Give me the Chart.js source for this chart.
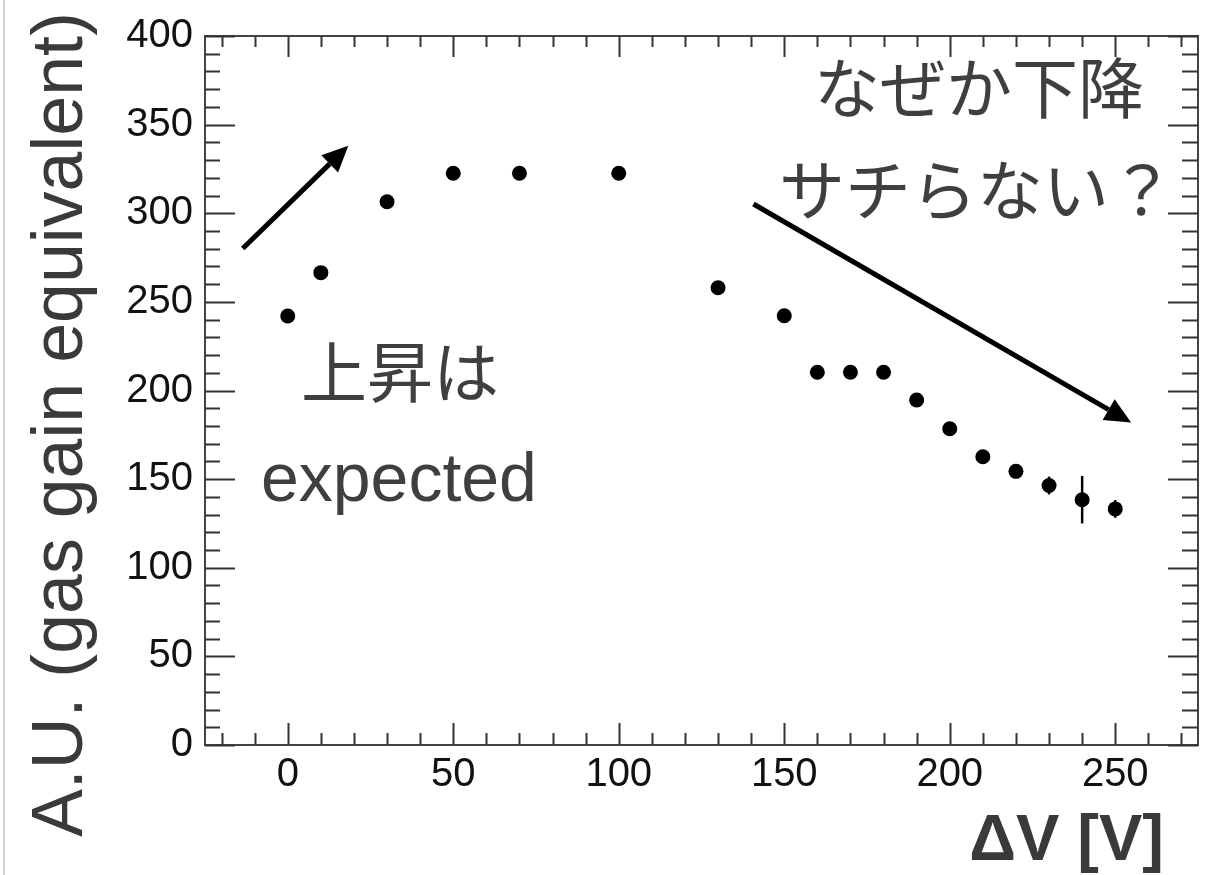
<!DOCTYPE html>
<html><head><meta charset="utf-8">
<script src="https://cdn.jsdelivr.net/npm/chart.js@4"></script>
<style>html,body{margin:0;padding:0;background:#fff;}canvas{display:block}</style>
</head><body>
<canvas id="c" width="1217" height="875"></canvas>
<script>
// ---- data ----
const deltaV  = [0, 10, 30, 50, 70, 100, 130, 150, 160, 170, 180, 190, 200, 210, 220, 230, 240, 250];
const gain    = [242, 266.5, 306.5, 322.6, 322.6, 322.6, 258, 242.2, 210.3, 210.3, 210.3, 194.6, 178.4, 162.6, 154.4, 146.4, 138.4, 133.2];
const gainErr = [2, 2, 2, 2, 2, 2, 3, 3, 3, 3, 3, 3, 3, 3, 3, 5, 13.4, 5];
const xTickValues = [0, 50, 100, 150, 200, 250];
const yTickValues = [0, 50, 100, 150, 200, 250, 300, 350, 400];
const xAxisTitle = 'ΔV [V]';
const yAxisTitle = 'A.U. (gas gain equivalent)';
const noteTexts = ['なぜか下降', 'サチらない？', '上昇は', 'expected'];

// ---- layout (annotation anchors in data coordinates) ----
const noteLayout = [
  {x: 159.0, y: 370.5, size: 66, baseline: 'middle', family: "'Noto Sans CJK JP', sans-serif"},
  {x: 148.4, y: 313.3, size: 66, baseline: 'middle', family: "'Noto Sans CJK JP', sans-serif"},
  {x: 4.0,   y: 210.4, size: 66, baseline: 'middle', family: "'Noto Sans CJK JP', sans-serif"},
  {x: -8.1,  y: 137.4, size: 68, baseline: 'alphabetic', family: "'Liberation Sans', Arial, sans-serif"}
];
const arrows = [
  {from: [-13.6, 280.1], to: [18.3, 338.1]},
  {from: [140.7, 305.2], to: [254.8, 181.9]}
];

const FONT = "'Liberation Sans', Arial, Helvetica, sans-serif";

const decor = {
  id: 'decor',
  beforeDatasetsDraw(chart) {
    const {ctx, scales: {x, y}} = chart;
    ctx.save();
    ctx.strokeStyle = '#000';
    ctx.lineWidth = 2.5;
    deltaV.forEach((v, i) => {
      const px = x.getPixelForValue(v);
      ctx.beginPath();
      ctx.moveTo(px, y.getPixelForValue(gain[i] - gainErr[i]));
      ctx.lineTo(px, y.getPixelForValue(gain[i] + gainErr[i]));
      ctx.stroke();
    });
    ctx.restore();
  },
  afterDraw(chart) {
    const {ctx, chartArea: a, scales: {x, y}} = chart;
    ctx.save();
    // page border
    ctx.strokeStyle = '#cfcfcf';
    ctx.lineWidth = 2;
    ctx.beginPath(); ctx.moveTo(4, 0); ctx.lineTo(4, chart.height); ctx.stroke();
    // frame
    ctx.strokeStyle = '#444';
    ctx.lineWidth = 2;
    ctx.strokeRect(a.left, a.top, a.right - a.left, a.bottom - a.top);
    // inward ticks
    ctx.strokeStyle = '#333';
    ctx.lineWidth = 2;
    for (let v = Math.ceil(x.min / 10) * 10; v <= x.max; v += 10) {
      const px = Math.round(x.getPixelForValue(v)) + 0.5;
      const major = v % 50 === 0;
      ctx.beginPath();
      ctx.moveTo(px, a.bottom); ctx.lineTo(px, a.bottom - (major ? 22 : 12));
      ctx.moveTo(px, a.top); ctx.lineTo(px, a.top + (major ? 21 : 11));
      ctx.stroke();
    }
    for (let v = Math.ceil(y.min / 10) * 10; v <= y.max; v += 10) {
      const py = Math.round(y.getPixelForValue(v)) + 0.5;
      const major = v % 50 === 0;
      ctx.beginPath();
      ctx.moveTo(a.left, py); ctx.lineTo(a.left + (major ? 30 : 15), py);
      ctx.moveTo(a.right, py); ctx.lineTo(a.right - (major ? 30 : 16), py);
      ctx.stroke();
    }
    // arrows
    ctx.strokeStyle = '#000'; ctx.fillStyle = '#000'; ctx.lineWidth = 5;
    arrows.forEach(ar => {
      const x0 = x.getPixelForValue(ar.from[0]), y0 = y.getPixelForValue(ar.from[1]);
      const x1 = x.getPixelForValue(ar.to[0]), y1 = y.getPixelForValue(ar.to[1]);
      const ang = Math.atan2(y1 - y0, x1 - x0);
      const hl = 26, hw = 12;
      const bx = x1 - hl * Math.cos(ang), by = y1 - hl * Math.sin(ang);
      ctx.beginPath(); ctx.moveTo(x0, y0); ctx.lineTo(bx, by); ctx.stroke();
      ctx.beginPath();
      ctx.moveTo(x1, y1);
      ctx.lineTo(bx + hw * Math.sin(ang), by - hw * Math.cos(ang));
      ctx.lineTo(bx - hw * Math.sin(ang), by + hw * Math.cos(ang));
      ctx.closePath(); ctx.fill();
    });
    // annotations
    ctx.fillStyle = '#3f3f3f';
    ctx.textAlign = 'left';
    noteTexts.forEach((t, i) => {
      const L = noteLayout[i];
      ctx.font = `${L.size}px ${L.family}`;
      ctx.textBaseline = L.baseline;
      ctx.fillText(t, x.getPixelForValue(L.x), y.getPixelForValue(L.y));
    });
    // axis titles
    ctx.fillStyle = '#3a3a3a';
    ctx.font = `bold 65px ${FONT}`;
    ctx.textAlign = 'right';
    ctx.textBaseline = 'alphabetic';
    ctx.fillText(xAxisTitle, 1164, 860);
    ctx.save();
    ctx.translate(82, 837);
    ctx.rotate(-Math.PI / 2);
    let fs = 72;
    ctx.font = `${fs}px ${FONT}`;
    fs = fs * 825 / ctx.measureText(yAxisTitle).width;
    ctx.font = `${fs}px ${FONT}`;
    ctx.textAlign = 'left';
    ctx.fillText(yAxisTitle, 0, 0);
    ctx.restore();
    ctx.restore();
  }
};

new Chart(document.getElementById('c'), {
  type: 'scatter',
  data: {
    datasets: [{
      data: deltaV.map((v, i) => ({x: v, y: gain[i]})),
      pointRadius: 7.5,
      pointHoverRadius: 7.5,
      pointBackgroundColor: '#000',
      pointBorderWidth: 0,
      showLine: false
    }]
  },
  options: {
    responsive: false,
    animation: false,
    events: [],
    layout: {padding: {left: 0, right: 19, top: 32, bottom: 0}},
    plugins: {legend: {display: false}, tooltip: {enabled: false}},
    scales: {
      x: {
        type: 'linear', min: -25, max: 275,
        afterBuildTicks: s => { s.ticks = xTickValues.map(v => ({value: v})); },
        afterFit: s => { s.height = 130; },
        grid: {display: false, drawTicks: false},
        border: {display: false},
        ticks: {padding: 6, color: '#111', font: {family: FONT, size: 40}, maxRotation: 0, autoSkip: false}
      },
      y: {
        type: 'linear', min: 0, max: 400,
        afterBuildTicks: s => { s.ticks = yTickValues.map(v => ({value: v})); },
        afterFit: s => { s.width = 205; },
        grid: {display: false, drawTicks: false},
        border: {display: false},
        ticks: {padding: 12, color: '#111', font: {family: FONT, size: 40}, autoSkip: false}
      }
    }
  },
  plugins: [decor]
});
</script>
</body></html>
